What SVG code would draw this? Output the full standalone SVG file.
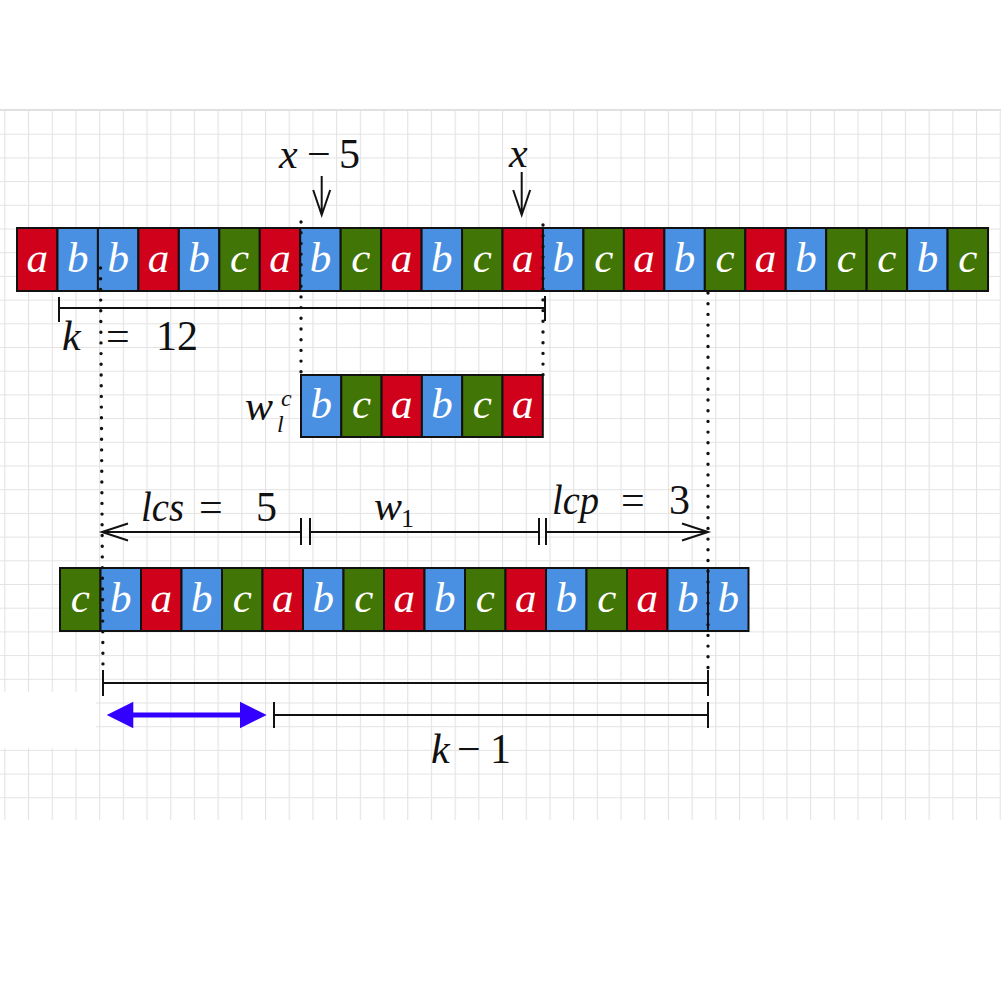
<svg xmlns="http://www.w3.org/2000/svg" width="1001" height="998" viewBox="0 0 1001 998">
<style>
.cell{stroke:#111;stroke-width:2}
.r{fill:#D0021B}.b{fill:#4A90E2}.g{fill:#417505}
.lt{fill:#fff;font-family:"Liberation Serif","DejaVu Serif",serif;font-style:italic;font-size:43px;text-anchor:middle}
.m{fill:#111;font-family:"Liberation Serif","DejaVu Serif",serif;font-size:42px}
.i{font-style:italic}
.ln{stroke:#111;stroke-width:2;fill:none}
.dot{stroke:#111;stroke-width:3.4;stroke-dasharray:0 10.7;stroke-linecap:round;fill:none}
</style>
<defs>
<pattern id="grid" x="4.3" y="110" width="23.7" height="23.7" patternUnits="userSpaceOnUse">
<path d="M0 0.5H23.7M0.5 0V23.7" stroke="#e3e3e3" stroke-width="1.2" fill="none"/>
</pattern>
</defs>
<rect width="1001" height="998" fill="#fff"/>
<rect x="0" y="110" width="1001" height="710" fill="url(#grid)"/>
<line x1="0" y1="110" x2="1001" y2="110" stroke="#e0e0e0" stroke-width="2"/>
<rect x="0" y="692" width="96" height="56" fill="#fff"/>

<g id="top-string">
<rect class="cell r" x="17" y="228" width="40.46" height="63"/><text class="lt" x="37.2" y="272">a</text>
<rect class="cell b" x="57.46" y="228" width="40.46" height="63"/><text class="lt" x="77.7" y="272">b</text>
<rect class="cell b" x="97.92" y="228" width="40.46" height="63"/><text class="lt" x="118.2" y="272">b</text>
<rect class="cell r" x="138.38" y="228" width="40.46" height="63"/><text class="lt" x="158.6" y="272">a</text>
<rect class="cell b" x="178.84" y="228" width="40.46" height="63"/><text class="lt" x="199.1" y="272">b</text>
<rect class="cell g" x="219.3" y="228" width="40.46" height="63"/><text class="lt" x="239.5" y="272">c</text>
<rect class="cell r" x="259.76" y="228" width="40.46" height="63"/><text class="lt" x="280" y="272">a</text>
<rect class="cell b" x="300.22" y="228" width="40.46" height="63"/><text class="lt" x="320.5" y="272">b</text>
<rect class="cell g" x="340.68" y="228" width="40.46" height="63"/><text class="lt" x="360.9" y="272">c</text>
<rect class="cell r" x="381.14" y="228" width="40.46" height="63"/><text class="lt" x="401.4" y="272">a</text>
<rect class="cell b" x="421.6" y="228" width="40.46" height="63"/><text class="lt" x="441.8" y="272">b</text>
<rect class="cell g" x="462.06" y="228" width="40.46" height="63"/><text class="lt" x="482.3" y="272">c</text>
<rect class="cell r" x="502.52" y="228" width="40.46" height="63"/><text class="lt" x="522.8" y="272">a</text>
<rect class="cell b" x="542.98" y="228" width="40.46" height="63"/><text class="lt" x="563.2" y="272">b</text>
<rect class="cell g" x="583.44" y="228" width="40.46" height="63"/><text class="lt" x="603.7" y="272">c</text>
<rect class="cell r" x="623.9" y="228" width="40.46" height="63"/><text class="lt" x="644.1" y="272">a</text>
<rect class="cell b" x="664.36" y="228" width="40.46" height="63"/><text class="lt" x="684.6" y="272">b</text>
<rect class="cell g" x="704.82" y="228" width="40.46" height="63"/><text class="lt" x="725" y="272">c</text>
<rect class="cell r" x="745.28" y="228" width="40.46" height="63"/><text class="lt" x="765.5" y="272">a</text>
<rect class="cell b" x="785.74" y="228" width="40.46" height="63"/><text class="lt" x="806" y="272">b</text>
<rect class="cell g" x="826.2" y="228" width="40.46" height="63"/><text class="lt" x="846.4" y="272">c</text>
<rect class="cell g" x="866.66" y="228" width="40.46" height="63"/><text class="lt" x="886.9" y="272">c</text>
<rect class="cell b" x="907.12" y="228" width="40.46" height="63"/><text class="lt" x="927.4" y="272">b</text>
<rect class="cell g" x="947.58" y="228" width="40.46" height="63"/><text class="lt" x="967.8" y="272">c</text>
</g>

<g id="w-box">
<rect class="cell b" x="301" y="375" width="40.3" height="62"/><text class="lt" x="321.2" y="418">b</text>
<rect class="cell g" x="341.3" y="375" width="40.3" height="62"/><text class="lt" x="361.5" y="418">c</text>
<rect class="cell r" x="381.6" y="375" width="40.3" height="62"/><text class="lt" x="401.8" y="418">a</text>
<rect class="cell b" x="421.9" y="375" width="40.3" height="62"/><text class="lt" x="442" y="418">b</text>
<rect class="cell g" x="462.2" y="375" width="40.3" height="62"/><text class="lt" x="482.4" y="418">c</text>
<rect class="cell r" x="502.5" y="375" width="40.3" height="62"/><text class="lt" x="522.7" y="418">a</text>
</g>

<g id="bottom-string">
<rect class="cell g" x="60" y="568" width="40.5" height="63"/><text class="lt" x="80.3" y="612">c</text>
<rect class="cell b" x="100.5" y="568" width="40.5" height="63"/><text class="lt" x="120.8" y="612">b</text>
<rect class="cell r" x="141" y="568" width="40.5" height="63"/><text class="lt" x="161.3" y="612">a</text>
<rect class="cell b" x="181.5" y="568" width="40.5" height="63"/><text class="lt" x="201.8" y="612">b</text>
<rect class="cell g" x="222" y="568" width="40.5" height="63"/><text class="lt" x="242.3" y="612">c</text>
<rect class="cell r" x="262.5" y="568" width="40.5" height="63"/><text class="lt" x="282.8" y="612">a</text>
<rect class="cell b" x="303" y="568" width="40.5" height="63"/><text class="lt" x="323.3" y="612">b</text>
<rect class="cell g" x="343.5" y="568" width="40.5" height="63"/><text class="lt" x="363.8" y="612">c</text>
<rect class="cell r" x="384" y="568" width="40.5" height="63"/><text class="lt" x="404.3" y="612">a</text>
<rect class="cell b" x="424.5" y="568" width="40.5" height="63"/><text class="lt" x="444.8" y="612">b</text>
<rect class="cell g" x="465" y="568" width="40.5" height="63"/><text class="lt" x="485.3" y="612">c</text>
<rect class="cell r" x="505.5" y="568" width="40.5" height="63"/><text class="lt" x="525.8" y="612">a</text>
<rect class="cell b" x="546" y="568" width="40.5" height="63"/><text class="lt" x="566.3" y="612">b</text>
<rect class="cell g" x="586.5" y="568" width="40.5" height="63"/><text class="lt" x="606.8" y="612">c</text>
<rect class="cell r" x="627" y="568" width="40.5" height="63"/><text class="lt" x="647.3" y="612">a</text>
<rect class="cell b" x="667.5" y="568" width="40.5" height="63"/><text class="lt" x="687.8" y="612">b</text>
<rect class="cell b" x="708" y="568" width="40.5" height="63"/><text class="lt" x="728.3" y="612">b</text>
</g>

<g id="labels">
<text class="m" y="168"><tspan class="i" x="279">x</tspan><tspan x="307">−</tspan><tspan x="339">5</tspan></text>
<text class="m i" x="509" y="167">x</text>
<text class="m" y="350"><tspan class="i" x="62">k</tspan><tspan x="106">=</tspan><tspan x="156">12</tspan></text>
<text class="m" y="420"><tspan class="i" x="245">w</tspan></text>
<text class="m i" x="281" y="406" style="font-size:24px">c</text>
<text class="m i" x="277" y="432" style="font-size:24px">l</text>
<text class="m" y="521"><tspan class="i" x="141" textLength="43" lengthAdjust="spacingAndGlyphs">lcs</tspan><tspan x="199">=</tspan><tspan x="256">5</tspan></text>
<text class="m" y="520"><tspan class="i" x="374">w</tspan></text>
<text class="m" x="401" y="527" style="font-size:26px">1</text>
<text class="m" y="514"><tspan class="i" x="552" textLength="47" lengthAdjust="spacingAndGlyphs">lcp</tspan><tspan x="621">=</tspan><tspan x="669">3</tspan></text>
<text class="m" y="763"><tspan class="i" x="431">k</tspan><tspan x="457">−</tspan><tspan x="490">1</tspan></text>
</g>

<g id="connectors">
<path class="dot" d="M301 222V375M543 225V375M100.5 268L103 670M708 293V668"/>
<path class="ln" d="M321.7 176V215M313.2 190L321.7 215L330.2 190"/>
<path class="ln" d="M521.7 172V215M513.2 190L521.7 215L530.2 190"/>
<path class="ln" d="M59 308H545M59 297V322M545 296V321"/>
<path class="ln" d="M102 532H301M128 523.5L102 532L128 540.5M301 518V545M310 518V545M310 532H539M539 518V545M546 518V545M546 532H708M682 523.5L708 532L682 540.5"/>
<path class="ln" d="M103 683H708M103 670V696M708 670V696"/>
<path class="ln" d="M274 715H708M274 702V728M708 702V728"/>
<path d="M128 715H246" stroke="#3300FF" stroke-width="5" fill="none"/>
<path d="M106.7 715L133.3 701.7V728.3Z M266.7 715L240 701.7V728.3Z" fill="#3300FF"/>
</g>
</svg>
